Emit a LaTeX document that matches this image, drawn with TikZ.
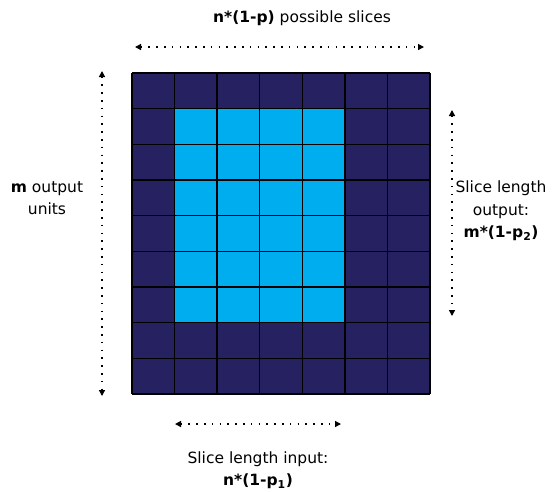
\documentclass[tikz,border=0pt]{standalone}
\usepackage{fontspec}
\setmainfont{DejaVu Sans}
\definecolor{gridNavy}{HTML}{262262}
\definecolor{sliceCyan}{HTML}{00AEEF}
\usetikzlibrary{arrows.meta,positioning}

\tikzset{
  cellline/.style={draw=black, line width=1.4pt},
  dimarrow/.style={{Triangle[length=6pt,width=6pt]}-{Triangle[length=6pt,width=6pt]},
    line width=1.3pt, dash pattern=on 1.6pt off 6.2pt},
  lbl/.style={font=\fontsize{15.5}{22.5}\selectfont, align=center, inner sep=0pt}
}

\begin{document}
\begin{tikzpicture}[x=1pt, y=-1pt]
        \useasboundingbox (0,0) rectangle (553,491);
        % Grid of units
        \def\cw{42.57}
        \def\rh{35.67}
        \fill[gridNavy] (132,73) rectangle (430,394);
        \fill[sliceCyan] ({132+\cw},{73+\rh}) rectangle ({132+5*\cw},{73+7*\rh});
        \foreach \i in {0,...,7} {
          \draw[cellline] ({132+\i*\cw},73) -- ({132+\i*\cw},394);
        }
        \foreach \j in {0,...,9} {
          \draw[cellline] (132,{73+\j*\rh}) -- (430,{73+\j*\rh});
        }
        % Labels
        \node[lbl] (slices) at (302,18) {\textbf{n*(1-p)} possible slices};
        \node[lbl] (units) at (47,198) {\textbf{m} output\\units};
        \node[lbl] (outlen) at (501,211) {Slice length\\output:\\\textbf{m*(1-p\textsubscript{2})}};
        \node[lbl] (inlen) at (258,470) {Slice length input:\\\textbf{n*(1-p\textsubscript{1})}};
        % Dimension arrows
        \coordinate (topL) at (135,47);
        \coordinate (topR) at (424,47);
        \coordinate (leftT) at (102,71);
        \coordinate (leftB) at (102,396);
        \coordinate (rightT) at (452,110);
        \coordinate (rightB) at (452,316);
        \coordinate (botL) at (175,424);
        \coordinate (botR) at (341,424);
        \draw[dimarrow] (topL) -- (topR);
        \draw[dimarrow] (leftT) -- (leftB);
        \draw[dimarrow] (rightT) -- (rightB);
        \draw[dimarrow] (botL) -- (botR);
      \end{tikzpicture}
\end{document}
